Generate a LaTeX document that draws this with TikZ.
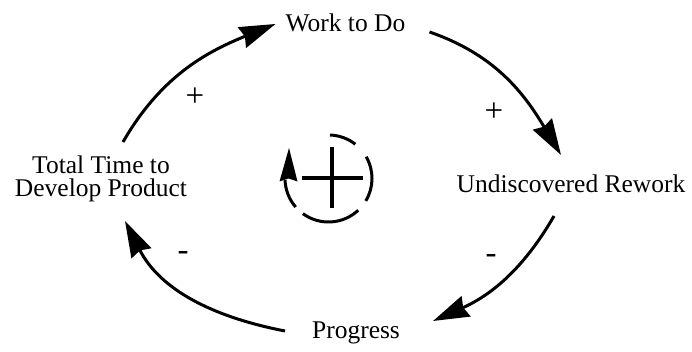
\documentclass[tikz,border=0pt]{standalone}
\usepackage{fontspec}
\setmainfont{Liberation Serif}
\usetikzlibrary{arrows.meta}
\begin{document}
\begin{tikzpicture}[x=1pt,y=1pt,
  lbl/.style={font=\fontsize{25.5}{23}\selectfont, inner sep=0pt, anchor=base},
  sgn/.style={font=\fontsize{33}{33}\selectfont, inner sep=0pt},
  link/.style={line width=3pt, -{Stealth[length=36pt,width=22pt,inset=3pt]}},
  loopline/.style={line width=3pt}]
\useasboundingbox (0,0) rectangle (692,352);
% variables
\node[lbl] (w) at (345.5,320) {Work to Do};
\node[lbl, align=center] (tt) at (101,155) {Total Time to\\Develop Product};
\node[lbl] (ur) at (571,159) {Undiscovered Rework};
\node[lbl] (p) at (356,13) {Progress};
% links
\draw[link] ([shift={(22,55)}]tt.base) to[out=60,in=202] ([shift={(-70,8)}]w.base);
\draw[link] ([shift={(84,0)}]w.base) to[out=-19,in=121] ([shift={(-10,38)}]ur.base);
\draw[link] ([shift={(-17,-23)}]ur.base) to[out=240,in=24] ([shift={(77,18)}]p.base);
\draw[link] ([shift={(-71,8)}]p.base) to[out=169,in=297] ([shift={(24,-24)}]tt.base);
% polarities
\node[sgn] (s1) at (195,255) {+};
\node[sgn] (s2) at (494,240) {+};
\node[sgn] (s3) at (491,93) {-};
\node[sgn] (s4) at (183,96) {-};
% loop symbol
\coordinate (lc) at (328.5,173.5);
\draw[loopline] (lc) ++(52:43.5pt) arc[start angle=52,end angle=88,radius=43.5pt];
\draw[loopline] (lc) ++(-31:43.5pt) arc[start angle=-31,end angle=30,radius=43.5pt];
\draw[loopline] (lc) ++(-126:43.5pt) arc[start angle=-126,end angle=-47,radius=43.5pt];
\draw[loopline] (lc) ++(-139:43.5pt) arc[start angle=-139,end angle=-178,radius=43.5pt];
\fill ([shift={(-49,-3)}]lc) -- ([shift={(-39.5,30.5)}]lc) -- ([shift={(-31,-3)}]lc) -- ([shift={(-40,0)}]lc) -- cycle;
\draw[line width=3.5pt] ([shift={(-26.5,0.5)}]lc) -- ([shift={(34.5,0.5)}]lc);
\draw[line width=3.5pt] ([shift={(3.5,31.5)}]lc) -- ([shift={(3.5,-29.5)}]lc);
\end{tikzpicture}
\end{document}
